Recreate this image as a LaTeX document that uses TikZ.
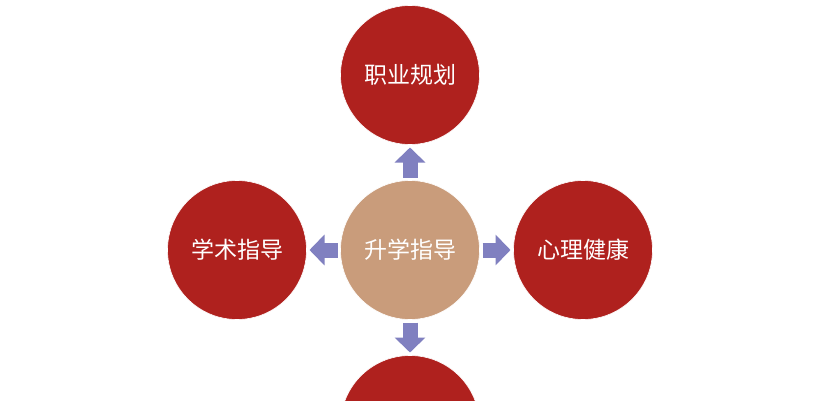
\documentclass[tikz,border=0pt]{standalone}
\usepackage{fontspec}
\newfontfamily\cjk{Noto Sans CJK SC}
\usetikzlibrary{arrows.meta}
\definecolor{cred}{RGB}{175,33,30}
\definecolor{ctan}{RGB}{201,156,123}
\definecolor{carrow}{RGB}{128,128,192}
\tikzset{
  topic/.style={circle, fill=cred, draw=white, line width=0.6pt, minimum size=139pt, inner sep=0pt, outer sep=0pt, text=white, font=\cjk\fontsize{23pt}{25pt}\selectfont},
  hub/.style={topic, fill=ctan},
  bigarrow/.style={draw=carrow, line width=15pt, -{Triangle[length=15pt,width=30pt]}, shorten <=3pt, shorten >=3pt}
}
\begin{document}
\begin{tikzpicture}[x=1pt,y=1pt]
\useasboundingbox (0,0) rectangle (821,400);
\clip (0,0) rectangle (821,400);
\fill[white] (0,0) rectangle (821,400);
\node[hub] (c) at (410,150) {升学指导};
\node[topic] (t) at (410,325) {职业规划};
\node[topic] (l) at (237,150) {学术指导};
\node[topic] (r) at (583,150) {心理健康};
\node[topic] (b) at (410,-25) {};
\draw[bigarrow] (c) -- (t);
\draw[bigarrow] (c) -- (l);
\draw[bigarrow] (c) -- (r);
\draw[bigarrow] (c) -- (b);
\end{tikzpicture}
\end{document}
